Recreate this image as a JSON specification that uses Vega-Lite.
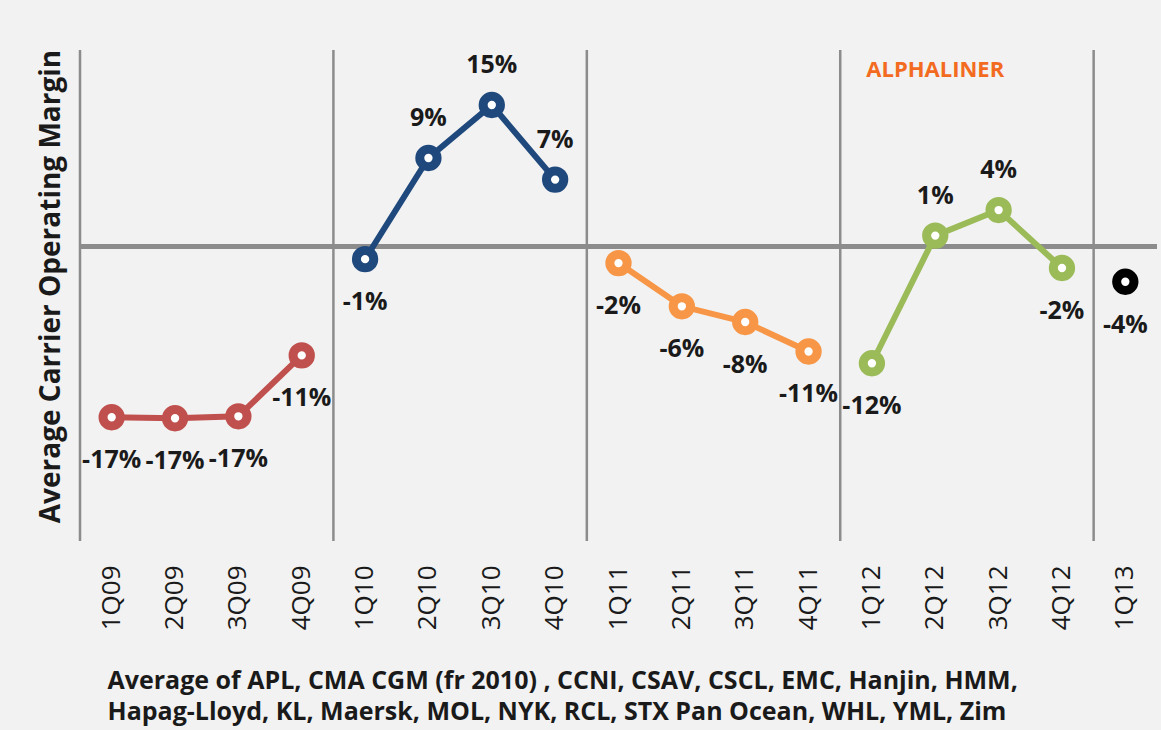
{
  "$schema": "https://vega.github.io/schema/vega-lite/v6.json",
  "autosize": {"type": "none"},
  "width": 1077,
  "height": 491,
  "padding": {"left": 80, "top": 50, "right": 4, "bottom": 189},
  "background": "#f2f2f2",
  "config": {
    "view": {"stroke": null},
    "font": "Open Sans"
  },
  "datasets": {
    "margins": [
      {"q": "1Q09", "v": -17.4, "label": "-17%", "s": "2009"},
      {"q": "2Q09", "v": -17.5, "label": "-17%", "s": "2009"},
      {"q": "3Q09", "v": -17.3, "label": "-17%", "s": "2009"},
      {"q": "4Q09", "v": -11.1, "label": "-11%", "s": "2009"},
      {"q": "1Q10", "v": -1.3, "label": "-1%", "s": "2010"},
      {"q": "2Q10", "v": 9.0, "label": "9%", "s": "2010"},
      {"q": "3Q10", "v": 14.4, "label": "15%", "s": "2010"},
      {"q": "4Q10", "v": 6.8, "label": "7%", "s": "2010"},
      {"q": "1Q11", "v": -1.7, "label": "-2%", "s": "2011"},
      {"q": "2Q11", "v": -6.1, "label": "-6%", "s": "2011"},
      {"q": "3Q11", "v": -7.7, "label": "-8%", "s": "2011"},
      {"q": "4Q11", "v": -10.7, "label": "-11%", "s": "2011"},
      {"q": "1Q12", "v": -11.9, "label": "-12%", "s": "2012"},
      {"q": "2Q12", "v": 1.1, "label": "1%", "s": "2012"},
      {"q": "3Q12", "v": 3.7, "label": "4%", "s": "2012"},
      {"q": "4Q12", "v": -2.2, "label": "-2%", "s": "2012"},
      {"q": "1Q13", "v": -3.6, "label": "-4%", "s": "2013"}
    ],
    "separators": [
      {"q": "1Q09"}, {"q": "1Q10"}, {"q": "1Q11"}, {"q": "1Q12"}, {"q": "1Q13"}
    ],
    "note": [
      {"q": "2Q12", "v": 18.0, "text": "ALPHALINER"}
    ]
  },
  "encoding": {
    "x": {
      "field": "q",
      "type": "ordinal",
      "sort": ["1Q09","2Q09","3Q09","4Q09","1Q10","2Q10","3Q10","4Q10","1Q11","2Q11","3Q11","4Q11","1Q12","2Q12","3Q12","4Q12","1Q13"],
      "scale": {
        "domain": ["1Q09","2Q09","3Q09","4Q09","1Q10","2Q10","3Q10","4Q10","1Q11","2Q11","3Q11","4Q11","1Q12","2Q12","3Q12","4Q12","1Q13"],
        "type": "band", "paddingInner": 0, "paddingOuter": 0
      },
      "axis": {
        "labelAngle": 270,
        "labelFontSize": 26,
        "labelColor": "#1a1a1a",
        "labelPadding": 24,
        "domain": false,
        "ticks": false,
        "grid": false,
        "title": [
          "Average of APL, CMA CGM (fr 2010) , CCNI, CSAV, CSCL, EMC, Hanjin, HMM,",
          "Hapag-Lloyd, KL, Maersk, MOL, NYK, RCL, STX Pan Ocean, WHL, YML, Zim"
        ],
        "titleFontSize": 25,
        "titleFontWeight": "bold",
        "titleColor": "#1a1a1a",
        "titleAnchor": "start",
        "titleAlign": "left",
        "titleBaseline": "alphabetic",
        "titleX": 27,
        "titleY": 147,
        "titleLineHeight": 31
      }
    }
  },
  "layer": [
    {
      "data": {"name": "separators"},
      "mark": {"type": "rule", "color": "#8c8c8c", "strokeWidth": 2.5},
      "encoding": {
        "x": {"field": "q", "type": "ordinal", "bandPosition": 0}
      }
    },
    {
      "data": {"name": "margins"},
      "mark": {"type": "rule", "color": "#8c8c8c", "strokeWidth": 3.5},
      "encoding": {
        "x": null,
        "y": {"datum": 0, "type": "quantitative"}
      }
    },
    {
      "data": {"name": "margins"},
      "mark": {"type": "line", "strokeWidth": 6},
      "encoding": {
        "y": {
          "field": "v",
          "type": "quantitative",
          "scale": {"domain": [-30, 20], "nice": false, "zero": false},
          "axis": {
            "labels": false,
            "ticks": false,
            "domain": false,
            "grid": false,
            "title": "Average Carrier Operating Margin",
            "titleFontSize": 28,
            "titleFontWeight": "bold",
            "titleColor": "#1a1a1a",
            "titleAngle": 270,
            "titleAlign": "center",
            "titleBaseline": "middle",
            "titleX": -29,
            "titleY": 236
          }
        },
        "color": {
          "field": "s",
          "type": "nominal",
          "scale": {
            "domain": ["2009", "2010", "2011", "2012", "2013"],
            "range": ["#c0504d", "#1f497d", "#f79646", "#9bbb59", "#000000"]
          },
          "legend": null
        }
      }
    },
    {
      "data": {"name": "margins"},
      "mark": {"type": "point", "shape": "circle", "filled": false, "fill": "#ffffff", "fillOpacity": 1, "size": 300, "strokeWidth": 9, "opacity": 1},
      "encoding": {
        "y": {"field": "v", "type": "quantitative"},
        "stroke": {
          "field": "s",
          "type": "nominal",
          "scale": {
            "domain": ["2009", "2010", "2011", "2012", "2013"],
            "range": ["#c0504d", "#1f497d", "#f79646", "#9bbb59", "#000000"]
          },
          "legend": null
        }
      }
    },
    {
      "data": {"name": "margins"},
      "transform": [{"filter": "datum.v >= 0"}],
      "mark": {"type": "text", "fontSize": 25, "fontWeight": "bold", "color": "#1a1a1a", "dy": -40, "baseline": "middle", "align": "center"},
      "encoding": {
        "y": {"field": "v", "type": "quantitative"},
        "text": {"field": "label"}
      }
    },
    {
      "data": {"name": "margins"},
      "transform": [{"filter": "datum.v < 0"}],
      "mark": {"type": "text", "fontSize": 25, "fontWeight": "bold", "color": "#1a1a1a", "dy": 43, "baseline": "middle", "align": "center"},
      "encoding": {
        "y": {"field": "v", "type": "quantitative"},
        "text": {"field": "label"}
      }
    },
    {
      "data": {"name": "note"},
      "mark": {"type": "text", "fontSize": 22, "fontWeight": "bold", "color": "#f26b21", "baseline": "middle", "align": "center"},
      "encoding": {
        "y": {"field": "v", "type": "quantitative"},
        "text": {"field": "text"}
      }
    }
  ]
}
